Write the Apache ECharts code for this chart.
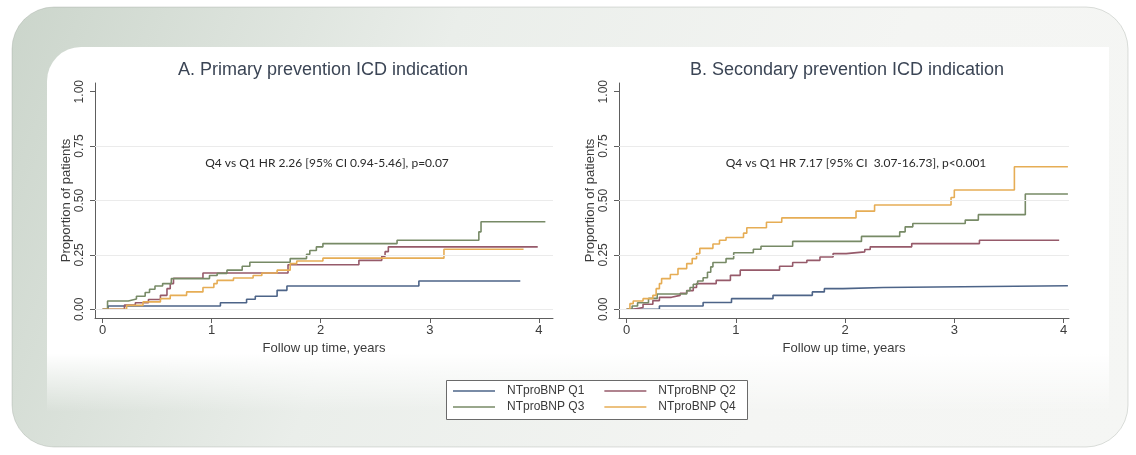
<!DOCTYPE html>
<html>
<head>
<meta charset="utf-8">
<script src="https://cdn.jsdelivr.net/npm/echarts@6/dist/echarts.min.js"></script>
<style>
html,body{margin:0;padding:0;background:#ffffff;}
#chart{width:1136px;height:455px;}
</style>
</head>
<body>
<div id="chart"></div>
<script>
// ---------- data ----------
const seriesNames = ['NTproBNP Q1','NTproBNP Q2','NTproBNP Q3','NTproBNP Q4'];
const yearTicks = [0,1,2,3,4];
const propTicks = [0,0.25,0.5,0.75,1];
const gridLevels = [0,0.25,0.5,0.75];
const panelTitles = ['A. Primary prevention ICD indication','B. Secondary prevention ICD indication'];
const panelNotes = ['Q4 vs Q1 HR 2.26 [95% CI 0.94-5.46], p=0.07','Q4 vs Q1 HR 7.17 [95% CI  3.07-16.73], p<0.001'];
const xTitle = 'Follow up time, years';
const yTitle = 'Proportion of patients';

// Panel A: [years, cumulative proportion]
const primaryQ1 = [[0,0],[0.05,0.015],[1.08,0.03],[1.32,0.046],[1.40,0.06],[1.60,0.087],[1.69,0.107],[2.90,0.13],[3.83,0.13]];
const primaryQ2 = [[0,0],[0.2,0.02],[0.3,0.03],[0.42,0.045],[0.53,0.064],[0.59,0.095],[0.62,0.118],[0.65,0.143],[0.92,0.167],[1.70,0.205],[2.35,0.225],[2.56,0.244],[2.59,0.265],[2.62,0.287],[3.99,0.287]];
const primaryQ3 = [[0,0],[0.045,0.038],[0.235,0.047],[0.31,0.06],[0.39,0.077],[0.43,0.092],[0.48,0.107],[0.55,0.118],[0.63,0.141],[0.98,0.155],[1.05,0.165],[1.14,0.18],[1.28,0.198],[1.35,0.216],[1.72,0.233],[1.87,0.253],[1.90,0.27],[1.96,0.287],[2.02,0.302],[2.70,0.317],[3.45,0.356],[3.47,0.402],[4.06,0.402]];
const primaryQ4 = [[0,0],[0.22,0.018],[0.37,0.034],[0.53,0.049],[0.62,0.064],[0.77,0.08],[0.92,0.1],[1.02,0.118],[1.05,0.133],[1.20,0.144],[1.38,0.155],[1.46,0.167],[1.60,0.18],[1.72,0.21],[1.78,0.222],[2.02,0.235],[3.13,0.276],[3.86,0.276]];

// Panel B
const secondaryQ1 = [[0,0],[0.3,0.015],[0.7,0.031],[0.96,0.049],[1.34,0.064],[1.70,0.08],[1.81,0.095],[1.98,0.1],[2.35,0.108],[4.04,0.108]];
const secondaryQ2 = [[0,0],[0.06,0.008],[0.15,0.023],[0.24,0.04],[0.3,0.055],[0.41,0.064],[0.49,0.074],[0.55,0.086],[0.61,0.1],[0.64,0.118],[0.82,0.133],[0.95,0.156],[1.04,0.18],[1.40,0.198],[1.52,0.215],[1.65,0.225],[1.77,0.24],[1.89,0.256],[2.01,0.264],[2.18,0.275],[2.23,0.287],[2.61,0.302],[3.23,0.317],[3.96,0.317]];
const secondaryQ3 = [[0,0],[0.05,0.015],[0.1,0.03],[0.2,0.05],[0.28,0.07],[0.55,0.085],[0.58,0.1],[0.61,0.115],[0.65,0.13],[0.7,0.145],[0.74,0.17],[0.77,0.195],[0.79,0.215],[0.91,0.233],[0.98,0.26],[1.16,0.276],[1.23,0.29],[1.52,0.312],[2.15,0.335],[2.5,0.356],[2.55,0.379],[2.62,0.394],[3.1,0.41],[3.22,0.435],[3.65,0.53],[4.04,0.53]];
const secondaryQ4 = [[0,0],[0.03,0.026],[0.06,0.038],[0.15,0.049],[0.24,0.064],[0.27,0.095],[0.3,0.118],[0.32,0.141],[0.4,0.16],[0.47,0.187],[0.55,0.21],[0.6,0.233],[0.64,0.256],[0.67,0.28],[0.79,0.3],[0.85,0.317],[0.91,0.33],[1.07,0.35],[1.1,0.375],[1.28,0.4],[1.42,0.42],[2.1,0.451],[2.27,0.479],[2.97,0.514],[3.0,0.548],[3.55,0.655],[4.04,0.655]];

const primaryData = [primaryQ1, primaryQ2, primaryQ3, primaryQ4];
const secondaryData = [secondaryQ1, secondaryQ2, secondaryQ3, secondaryQ4];
const colors = ['#4d6488','#965a6a','#778a66','#e6ad55'];

// ---------- chart ----------
const chart = echarts.init(document.getElementById('chart'));
const axisCol = '#5e5e5e';
const labelCol = '#3c3c3c';
const ff = 'Liberation Sans, Arial, sans-serif';

function xAxisFor(idx, max){
  return {
    type:'value', gridIndex:idx, min:-0.07, max:max,
    axisLine:{show:true, onZero:false, lineStyle:{color:axisCol, width:1}},
    axisTick:{show:true, length:5, customValues:yearTicks, lineStyle:{color:axisCol}},
    axisLabel:{show:true, customValues:yearTicks, margin:6, fontSize:13, color:labelCol, fontFamily:ff},
    splitLine:{show:false},
    name:xTitle, nameLocation:'middle', nameGap:19,
    nameTextStyle:{fontSize:13, color:labelCol, fontFamily:ff}
  };
}
function yAxisFor(idx){
  return {
    type:'value', gridIndex:idx, min:-0.04, max:1.04,
    axisLine:{show:true, onZero:false, lineStyle:{color:axisCol, width:1}},
    axisTick:{show:true, length:5, customValues:propTicks, lineStyle:{color:axisCol}},
    axisLabel:{show:true, customValues:propTicks, rotate:90, margin:9, fontSize:12, color:labelCol, fontFamily:ff,
      formatter:function(v){return v.toFixed(2);}},
    splitLine:{show:false},
    name:yTitle, nameLocation:'middle', nameRotate:90, nameGap:17,
    nameTextStyle:{fontSize:13, color:labelCol, fontFamily:ff}
  };
}

const series = [];
[primaryData, secondaryData].forEach(function(panel, gi){
  series.push({
    name:'grid'+gi, type:'line', xAxisIndex:gi, yAxisIndex:gi, data:[], silent:true, z:1,
    markLine:{silent:true, symbol:['none','none'], label:{show:false},
      lineStyle:{color:'#ebebeb', type:'solid', width:1},
      data: gridLevels.map(function(v){return {yAxis:v};})}
  });
  panel.forEach(function(d, si){
    series.push({
      name:seriesNames[si], type:'line', step:'end', xAxisIndex:gi, yAxisIndex:gi,
      data:d, showSymbol:false, symbol:'none', z:3,
      color:colors[si],
      lineStyle:{color:colors[si], width:1.6},
      itemStyle:{color:colors[si]}
    });
  });
});

const legendCommon = {
  icon:'rect', itemWidth:42, itemHeight:1.5, itemGap:20, padding:0, orient:'horizontal',
  selectedMode:false,
  textStyle:{fontSize:12, color:'#3a3a3a', fontFamily:ff, padding:[0,0,0,7]}
};

chart.setOption({
  animation:false,
  backgroundColor:'#ffffff',
  graphic:[
    {type:'rect', z:-10, shape:{x:12, y:7, width:1116, height:440, r:42},
      style:{fill:{type:'linear', x:0, y:0, x2:1, y2:1, colorStops:[
        {offset:0, color:'#cbd5cb'},{offset:0.35, color:'#eaeeea'},{offset:0.7, color:'#f4f5f3'},{offset:1, color:'#f5f6f4'}]},
        stroke:'rgba(140,150,140,0.3)', lineWidth:1}},
    {type:'rect', z:-9, shape:{x:47, y:47, width:1062, height:365, r:[34,0,0,0]},
      style:{fill:{type:'linear', x:0, y:0, x2:0, y2:1, colorStops:[
        {offset:0, color:'#ffffff'},{offset:0.84, color:'#ffffff'},{offset:1, color:'rgba(255,255,255,0)'}]}}},
    {type:'rect', z:-5, shape:{x:446.5, y:380.5, width:301, height:39},
      style:{fill:'#ffffff', stroke:'#6a6a6a', lineWidth:1}},
    {type:'text', x:323, y:70, z:5, style:{text:panelTitles[0], font:'18px Liberation Sans', fill:'#3b4555', align:'center', verticalAlign:'middle', textAlign:'center', textVerticalAlign:'middle'}},
    {type:'text', x:847, y:70, z:5, style:{text:panelTitles[1], font:'18px Liberation Sans', fill:'#3b4555', align:'center', verticalAlign:'middle', textAlign:'center', textVerticalAlign:'middle'}},
    {type:'text', x:327, y:163, z:5, style:{text:panelNotes[0], font:'12px Lato', fill:'#2a2a2a', align:'center', verticalAlign:'middle', textAlign:'center', textVerticalAlign:'middle'}},
    {type:'text', x:856, y:163, z:5, style:{text:panelNotes[1], font:'12px Lato', fill:'#2a2a2a', align:'center', verticalAlign:'middle', textAlign:'center', textVerticalAlign:'middle'}}
  ],
  grid:[
    {left:95, top:83, width:458, height:235, containLabel:false},
    {left:619, top:83, width:450, height:235, containLabel:false}
  ],
  xAxis:[xAxisFor(0, 4.13), xAxisFor(1, 4.05)],
  yAxis:[yAxisFor(0), yAxisFor(1)],
  legend:[
    Object.assign({}, legendCommon, {data:[seriesNames[0], seriesNames[1]], left:453, top:385}),
    Object.assign({}, legendCommon, {data:[seriesNames[2], seriesNames[3]], left:453, top:401})
  ],
  series:series
});
</script>
</body>
</html>
